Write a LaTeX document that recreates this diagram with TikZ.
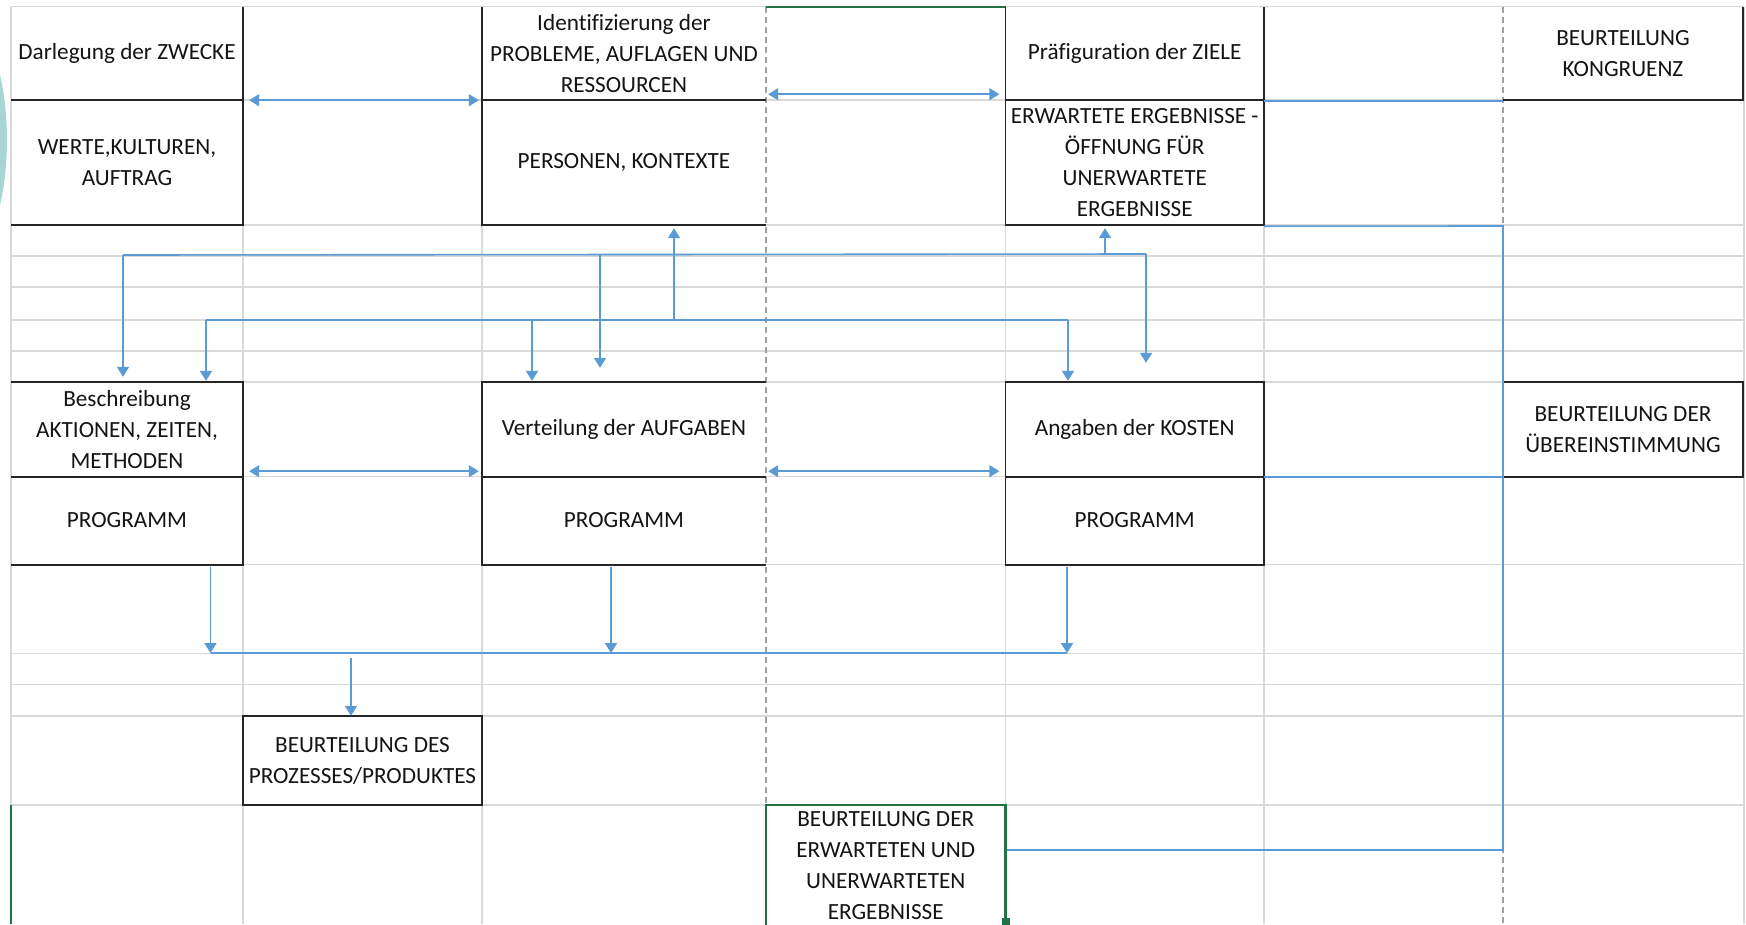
\documentclass[tikz,border=0pt]{standalone}
\usepackage{fontspec}
\setmainfont{Carlito}[Ligatures=NoCommon]
\usetikzlibrary{arrows.meta,calc}
\definecolor{gridc}{RGB}{217,217,217}
\definecolor{dashc}{RGB}{160,160,160}
\definecolor{linkc}{RGB}{91,155,213}
\definecolor{boxc}{RGB}{38,38,38}
\definecolor{selc}{RGB}{33,115,70}
\definecolor{tealc}{RGB}{168,212,210}
\definecolor{txtc}{RGB}{20,20,20}
\newcommand\cellfont{\fontsize{23.2}{31}\selectfont}
\tikzset{
  cell/.style 2 args={inner sep=0pt, align=center, font=\cellfont, text=txtc, minimum width=#1, minimum height=#2},
  gridline/.style={draw=gridc, line width=1.2pt},
  dashline/.style={draw=dashc, line width=1.3pt, dash pattern=on 6pt off 4pt},
  edge/.style={draw=boxc, line width=1.6pt},
  link/.style={draw=linkc, line width=1.6pt},
  arr/.style={link, -{Triangle[width=12pt,length=10pt]}},
  darr/.style={link, {Triangle[width=12pt,length=10pt]}-{Triangle[width=12pt,length=10pt]}},
}
\begin{document}
\begin{tikzpicture}[x=1pt,y=-1pt]
\useasboundingbox (0,0) rectangle (1746,924);
\fill[white] (0,0) rectangle (1746,924);
% teal decoration at the left edge
\begin{scope}
\clip (0,0) rectangle (11,924);
\fill[tealc] (-300,140) circle (307);
\end{scope}
% cells
\node[cell={232pt}{93.3pt}] (B1) at (127,53.35) {Darlegung der ZWECKE};
\node[cell={232pt}{125pt}] (B1b) at (127,162.5) {WERTE,KULTUREN,\\AUFTRAG};
\node[cell={284pt}{93.3pt}] (B2) at (624,53.35) {Identifizierung der\\PROBLEME, AUFLAGEN UND\\RESSOURCEN};
\node[cell={284pt}{125pt}] (B2b) at (624,162.5) {PERSONEN, KONTEXTE};
\node[cell={258.5pt}{93.3pt}] (B3) at (1134.75,53.35) {Präfiguration der ZIELE};
\node[cell={258.5pt}{125pt}] (B3b) at (1134.75,162.5) {ERWARTETE ERGEBNISSE -\\ÖFFNUNG FÜR\\UNERWARTETE\\ERGEBNISSE};
\node[cell={240pt}{93.3pt}] (B4) at (1623,53.35) {BEURTEILUNG\\KONGRUENZ};
\node[cell={232pt}{94.5pt}] (C1) at (127,429.25) {Beschreibung\\AKTIONEN, ZEITEN,\\METHODEN};
\node[cell={232pt}{88pt}] (C1b) at (127,520.5) {PROGRAMM};
\node[cell={284pt}{94.5pt}] (C2) at (624,429.25) {Verteilung der AUFGABEN};
\node[cell={284pt}{88pt}] (C2b) at (624,520.5) {PROGRAMM};
\node[cell={258.5pt}{94.5pt}] (C3) at (1134.75,429.25) {Angaben der KOSTEN};
\node[cell={258.5pt}{88pt}] (C3b) at (1134.75,520.5) {PROGRAMM};
\node[cell={240pt}{94.5pt}] (C4) at (1623,429.25) {BEURTEILUNG DER\\ÜBEREINSTIMMUNG};
\node[cell={239pt}{89pt}] (E1) at (362.5,760.5) {BEURTEILUNG DES\\PROZESSES/PRODUKTES};
\node[cell={239.5pt}{122pt}] (F1) at (885.75,866) {BEURTEILUNG DER\\ERWARTETEN UND\\UNERWARTETEN\\ERGEBNISSE};
% grid
\foreach \y in {6.7,100,225,256,287,320,351,382,476.5,564.5,653.6,684.8,716,805}
  \draw[gridline] (11,\y) -- (1744,\y);
\foreach \x in {11,243,482,1005.5,1264,1744}
  \draw[gridline] (\x,6.7) -- (\x,924);
\draw[dashline] (766,6.7) -- (766,805);
\draw[dashline] (1503,6.7) -- (1503,924);
\draw[draw=selc, line width=1.6pt] (766,6.7) -- (1005.5,6.7);
\draw[draw=selc, line width=1.2pt] (11,805) -- (11,924);
% box borders
\draw[edge] (B1.north east) -- (B1b.south east) -- (B1b.south west);
\draw[edge] (B1.south west) -- (B1.south east);
\draw[edge] (B2.north west) -- (B2b.south west) -- (B2b.south east);
\draw[edge] (B2.south west) -- (B2.south east);
\draw[edge] (B3.north west) -- (B3b.south west) -- (B3b.south east) -- (B3.north east);
\draw[edge] (B3.south west) -- (B3.south east);
\draw[edge] (B4.south west) -- (B4.south east) -- (B4.north east);
\draw[edge] (C1.north west) -- (C1.north east) -- (C1b.south east) -- (C1b.south west);
\draw[edge] (C1.south west) -- (C1.south east);
\draw[edge] (C2.north east) -- (C2.north west) -- (C2b.south west) -- (C2b.south east);
\draw[edge] (C2.south west) -- (C2.south east);
\draw[edge] (C3.north west) rectangle (C3b.south east);
\draw[edge] (C3.south west) -- (C3.south east);
\draw[edge] (C4.north west) -- (C4.north east) -- (C4.south east) -- (C4.south west);
\draw[edge] (E1.north west) rectangle (E1.south east);
% horizontal double arrows
\draw[darr, shorten <=6pt, shorten >=3pt] (B1.south east) -- (B2.south west);
\draw[darr, shorten <=2pt, shorten >=6pt] ([yshift=6pt]B2.south east) -- ([yshift=6pt]B3.south west);
\draw[darr, shorten <=6pt, shorten >=3pt] ([yshift=5.5pt]C1.south east) -- ([yshift=5.5pt]C2.south west);
\draw[darr, shorten <=2pt, shorten >=6pt] ([yshift=5.5pt]C2.south east) -- ([yshift=5.5pt]C3.south west);
% lines to the evaluation column
\draw[link] ([yshift=-1pt]B3.south east) -- ([yshift=-1pt]B4.south west);
\draw[link] (C3.south east) -- (C4.south west);
\coordinate (R1) at (1503,226);
\coordinate (R2) at (1503,850);
\draw[link] ([yshift=-1pt]B3b.south east) -- (R1) -- (R2) -- ([yshift=16pt]F1.east);
% upper distribution lines
\coordinate (L1a) at (123,255);
\coordinate (L1b) at (1146,254);
\coordinate (L1c) at (600,255);
\coordinate (L1d) at (1105,254);
\draw[link] (L1a) -- (L1b);
\draw[arr, shorten >=5pt] (L1a) -- (L1a |- C1.north);
\draw[arr, shorten >=14pt] (L1c) -- (L1c |- C2.north);
\draw[arr, shorten >=3pt] (L1d) -- (L1d |- B3b.south);
\draw[arr, shorten >=19pt] (L1b) -- (L1b |- C3.north);
\coordinate (L2a) at (206,320);
\coordinate (L2b) at (1068,320);
\coordinate (L2c) at (532,320);
\coordinate (L2d) at (674,320);
\draw[link] (L2a) -- (L2b);
\draw[arr, shorten >=1pt] (L2a) -- (L2a |- C1.north);
\draw[arr, shorten >=1pt] (L2c) -- (L2c |- C2.north);
\draw[arr, shorten >=3pt] (L2d) -- (L2d |- B2b.south);
\draw[arr, shorten >=1pt] (L2b) -- (L2b |- C3.north);
% lower collection lines
\coordinate (L3a) at (210.5,653);
\coordinate (L3b) at (1067,653);
\coordinate (L3c) at (611,653);
\coordinate (L3d) at (351,658);
\draw[arr, shorten <=2pt] (L3a |- C1b.south) -- (L3a);
\draw[arr, shorten <=2pt] (L3c |- C2b.south) -- (L3c);
\draw[arr, shorten <=2pt] (L3b |- C3b.south) -- (L3b);
\draw[link] (L3a) -- (L3b);
\draw[arr] (L3d) -- (L3d |- E1.north);
% selected cell
\draw[draw=selc, line width=2.6pt] (F1.south west) -- (F1.north west) -- (F1.north east) -- (F1.south east);
\fill[selc] (1001.5,918) rectangle (1009.5,926);
\end{tikzpicture}
\end{document}
